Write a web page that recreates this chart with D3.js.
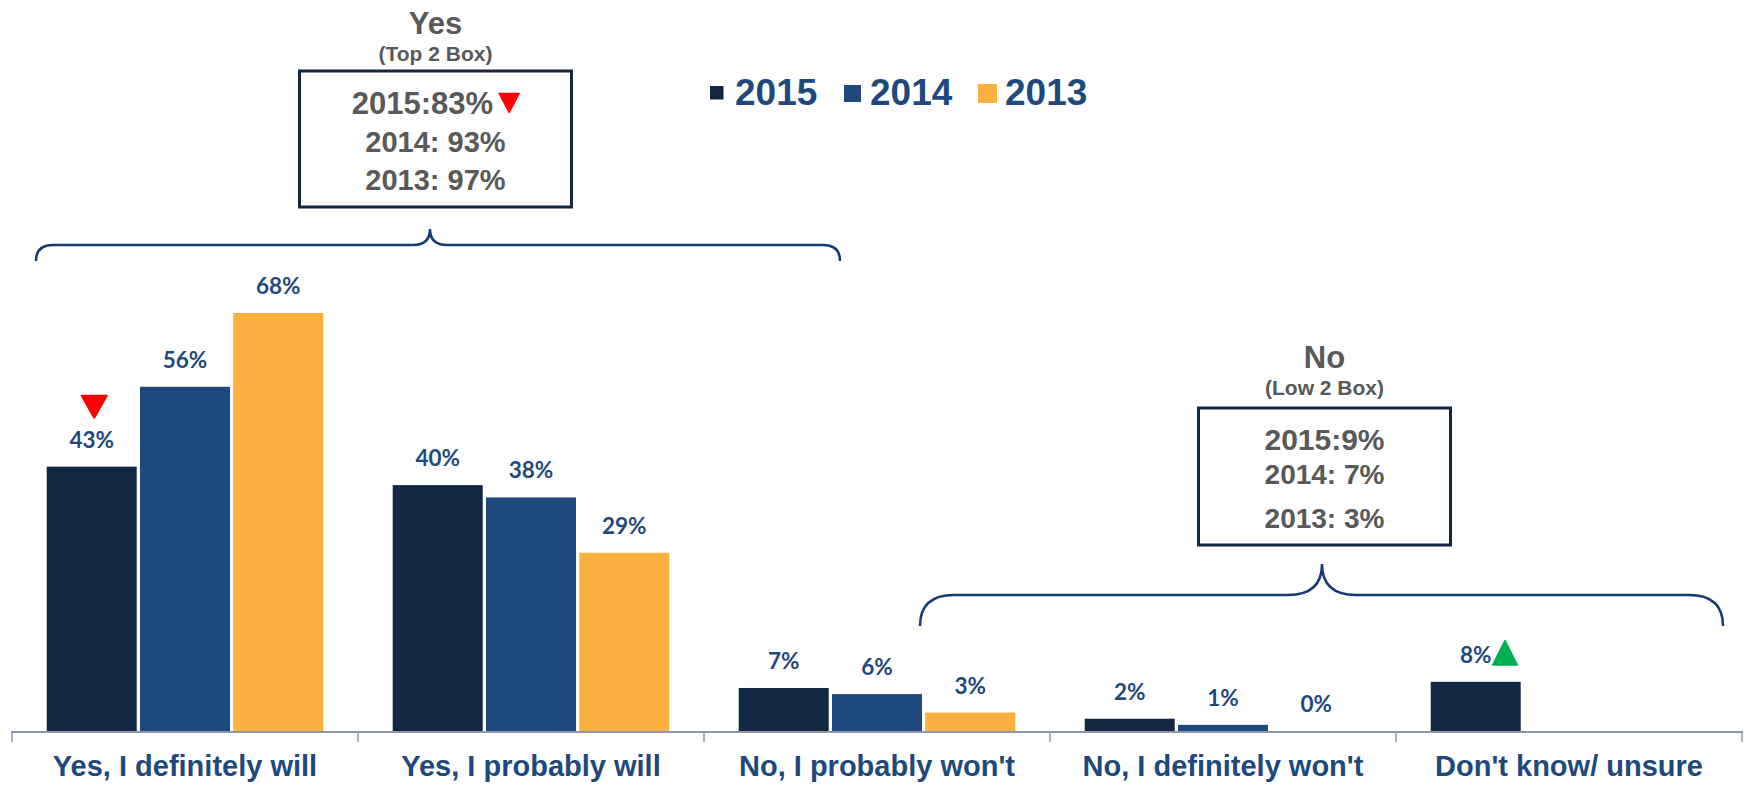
<!DOCTYPE html>
<html>
<head>
<meta charset="utf-8">
<script src="https://cdn.jsdelivr.net/npm/d3@7/dist/d3.min.js"></script>
<style>
  html, body { margin: 0; padding: 0; background: #ffffff; }
  svg { display: block; }
</style>
</head>
<body>
<svg id="chart" width="1744" height="785"></svg>
<script>
// Survey answers, one bar per year within each answer group
const categories = ["Yes, I definitely will", "Yes, I probably will", "No, I probably won't", "No, I definitely won't", "Don't know/ unsure"];
const years = ["2015", "2014", "2013"];
const values2015 = [43, 40, 7, 2, 8];
const values2014 = [56, 38, 6, 1, null];
const values2013 = [68, 29, 3, 0, null];

// Significant changes for 2015
const changeMarkers = [
  { category: "Yes, I definitely will", year: "2015", dir: "down" },
  { category: "Don't know/ unsure", year: "2015", dir: "up" }
];

// Net summaries
const topBoxTitle = "Yes";
const topBoxSubtitle = "(Top 2 Box)";
const topBoxLines = ["2015:83%", "2014: 93%", "2013: 97%"];
const lowBoxTitle = "No";
const lowBoxSubtitle = "(Low 2 Box)";
const lowBoxLines = ["2015:9%", "2014: 7%", "2013: 3%"];

const seriesValues = { "2015": values2015, "2014": values2014, "2013": values2013 };
const colors = { "2015": "#132742", "2014": "#1f497d", "2013": "#fbb040" };

const textBlue = "#1f497d";
const gray = "#595959";
const boxStroke = "#132742";
const braceStroke = "#163a78";

const svg = d3.select("#chart");

const x0 = d3.scaleBand().domain(categories).range([12, 1742]).padding(0);
const x1 = d3.scaleBand().domain(years).range([0, x0.bandwidth()])
  .paddingInner(0.035).paddingOuter(0.372);
const y = d3.scaleLinear().domain([0, 100]).range([731, 116.3]);

// Axis baseline with category dividers
const axisG = svg.append("g").attr("transform", "translate(0,732)");
axisG.append("line")
  .attr("x1", 11).attr("x2", 1743)
  .attr("stroke", "#8e98ac").attr("stroke-width", 2);
const dividers = categories.map(c => x0(c)).concat([x0.range()[1]]);
axisG.selectAll("line.div").data(dividers).join("line")
  .attr("class", "div")
  .attr("x1", d => d).attr("x2", d => d)
  .attr("y1", 0).attr("y2", 10)
  .attr("stroke", "#8e98ac").attr("stroke-width", 1.5);

// Category labels
svg.append("g").selectAll("text").data(categories).join("text")
  .attr("x", d => x0(d) + x0.bandwidth() / 2)
  .attr("y", 776)
  .attr("text-anchor", "middle")
  .attr("font-family", "'Liberation Sans', Arial, sans-serif")
  .attr("font-weight", "bold")
  .attr("font-size", 29)
  .attr("fill", textBlue)
  .text(d => d);

// Bars
const flat = [];
categories.forEach((c, i) => {
  years.forEach(yr => {
    const v = seriesValues[yr][i];
    if (v !== null && v !== undefined) flat.push({ category: c, year: yr, value: v });
  });
});

svg.append("g").selectAll("rect").data(flat).join("rect")
  .attr("x", d => x0(d.category) + x1(d.year))
  .attr("y", d => y(d.value))
  .attr("width", x1.bandwidth())
  .attr("height", d => y(0) - y(d.value))
  .attr("fill", d => colors[d.year]);

// Value labels
const valueLabels = svg.append("g").selectAll("text").data(flat).join("text")
  .attr("x", d => x0(d.category) + x1(d.year) + x1.bandwidth() / 2)
  .attr("y", d => y(d.value) - 19)
  .attr("text-anchor", "middle")
  .attr("font-family", "Lato, 'Open Sans', sans-serif")
  .attr("font-weight", "bold")
  .attr("font-size", 22.5)
  .attr("fill", textBlue)
  .text(d => d.value + "%");

// Triangles marking significant change
function triangle(cx, top, w, h, dir) {
  if (dir === "down") return `M${cx - w / 2},${top}L${cx + w / 2},${top}L${cx},${top + h}Z`;
  return `M${cx - w / 2},${top + h}L${cx + w / 2},${top + h}L${cx},${top}Z`;
}

changeMarkers.forEach(m => {
  const i = categories.indexOf(m.category);
  const v = seriesValues[m.year][i];
  const cx = x0(m.category) + x1(m.year) + x1.bandwidth() / 2;
  const base = y(v) - 19;
  if (m.dir === "down") {
    svg.append("path")
      .attr("d", triangle(cx + 2.5, base - 52, 25, 22, "down"))
      .attr("fill", "#ff0000").attr("stroke", "#ff0000")
      .attr("stroke-width", 2).attr("stroke-linejoin", "round");
  } else {
    const lbl = valueLabels.filter(d => d.category === m.category && d.year === m.year).node();
    const w = lbl.getComputedTextLength();
    const left = cx + w / 2 + 1.5;
    svg.append("path")
      .attr("d", triangle(left + 12, base - 22, 24, 24, "up"))
      .attr("fill", "#00b050").attr("stroke", "#00b050")
      .attr("stroke-width", 2).attr("stroke-linejoin", "round");
  }
});

// Legend
const legendItems = [
  { year: "2015", sx: 710, sy: 86, size: 13.5, tx: 735 },
  { year: "2014", sx: 844, sy: 85, size: 17, tx: 870 },
  { year: "2013", sx: 978, sy: 84, size: 19, tx: 1005 }
];
const legend = svg.append("g");
legend.selectAll("rect").data(legendItems).join("rect")
  .attr("x", d => d.sx).attr("y", d => d.sy)
  .attr("width", d => d.size).attr("height", d => d.size)
  .attr("fill", d => colors[d.year]);
legend.selectAll("text").data(legendItems).join("text")
  .attr("x", d => d.tx).attr("y", 105)
  .attr("font-family", "'Liberation Sans', Arial, sans-serif")
  .attr("font-weight", "bold")
  .attr("font-size", 37)
  .attr("fill", textBlue)
  .text(d => d.year);

// Net summary box with title, subtitle and per-year lines
function summaryBox(cfg) {
  const g = svg.append("g");
  const cx = cfg.x + cfg.w / 2;
  g.append("text")
    .attr("x", cx).attr("y", cfg.titleY)
    .attr("text-anchor", "middle")
    .attr("font-family", "'Liberation Sans', Arial, sans-serif")
    .attr("font-weight", "bold").attr("font-size", 31)
    .attr("fill", gray).text(cfg.title);
  g.append("text")
    .attr("x", cx).attr("y", cfg.subY)
    .attr("text-anchor", "middle")
    .attr("font-family", "'Liberation Sans', Arial, sans-serif")
    .attr("font-weight", "bold").attr("font-size", 21)
    .attr("fill", gray).text(cfg.subtitle);
  g.append("rect")
    .attr("x", cfg.x).attr("y", cfg.y).attr("width", cfg.w).attr("height", cfg.h)
    .attr("fill", "#ffffff").attr("stroke", boxStroke).attr("stroke-width", 3);
  cfg.lines.forEach((t, i) => {
    const txt = g.append("text")
      .attr("x", cx).attr("y", cfg.lineY[i])
      .attr("text-anchor", "middle")
      .attr("font-family", "'Liberation Sans', Arial, sans-serif")
      .attr("font-weight", "bold").attr("font-size", cfg.lineSize[i])
      .attr("fill", gray).text(t);
    if (i === 0 && cfg.marker) {
      const w = txt.node().getComputedTextLength();
      const gap = 6, tw = 20, th = 19;
      const total = w + gap + tw;
      const start = cx - total / 2;
      txt.attr("text-anchor", "start").attr("x", start);
      g.append("path")
        .attr("d", triangle(start + w + gap + tw / 2, cfg.lineY[i] - 20, tw, th, "down"))
        .attr("fill", "#ff0000").attr("stroke", "#ff0000")
        .attr("stroke-width", 1.5).attr("stroke-linejoin", "round");
    }
  });
}

summaryBox({
  title: topBoxTitle, subtitle: topBoxSubtitle, lines: topBoxLines,
  x: 299.5, y: 71, w: 272, h: 136,
  titleY: 34, subY: 61,
  lineY: [113.5, 152, 190], lineSize: [31, 29, 29],
  marker: true
});
summaryBox({
  title: lowBoxTitle, subtitle: lowBoxSubtitle, lines: lowBoxLines,
  x: 1198.5, y: 408, w: 252, h: 137,
  titleY: 368, subY: 395,
  lineY: [450, 484, 528], lineSize: [30, 28, 28],
  marker: false
});

// Curly braces grouping the answer categories
function brace(xStart, xEnd, xMid, yLine, depth, r) {
  return `M${xStart},${yLine + depth}` +
    `Q${xStart},${yLine} ${xStart + r},${yLine}` +
    `L${xMid - r},${yLine}` +
    `Q${xMid},${yLine} ${xMid},${yLine - depth}` +
    `Q${xMid},${yLine} ${xMid + r},${yLine}` +
    `L${xEnd - r},${yLine}` +
    `Q${xEnd},${yLine} ${xEnd},${yLine + depth}`;
}
svg.append("path")
  .attr("d", brace(36, 840, 430, 245, 16, 17))
  .attr("fill", "none").attr("stroke", braceStroke).attr("stroke-width", 2.5);
svg.append("path")
  .attr("d", brace(920, 1723, 1322, 595, 31, 34))
  .attr("fill", "none").attr("stroke", braceStroke).attr("stroke-width", 2.5);
</script>
</body>
</html>
